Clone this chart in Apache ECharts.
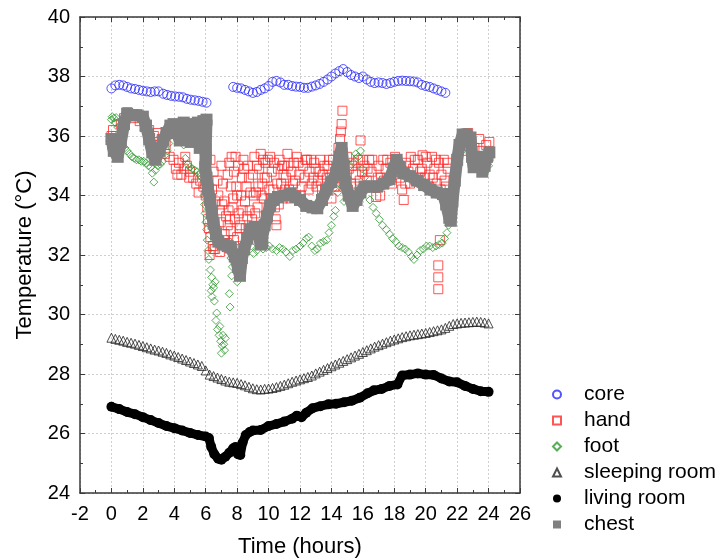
<!DOCTYPE html>
<html>
<head>
<meta charset="utf-8">
<script src="https://cdn.jsdelivr.net/npm/echarts@6/dist/echarts.min.js"></script>
<style>html,body{margin:0;padding:0;background:#fff}#c{width:718px;height:560px}</style>
</head>
<body>
<div id="c"></div>
<script>
// ---- data (time in hours, temperature in °C) ----
var seriesNames = ['core', 'hand', 'foot', 'sleeping room', 'living room', 'chest'];

var core = [
[0,37.6],[0.25,37.7],[0.5,37.72],[0.75,37.7],[1,37.65],[1.25,37.6],[1.5,37.58],[1.75,37.55],[2,37.52],[2.25,37.5],[2.5,37.48],[2.75,37.5],[3,37.5],
[3.3,37.42],[3.55,37.38],[3.8,37.35],[4.05,37.33],[4.3,37.32],[4.55,37.3],[4.8,37.25],[5.05,37.22],[5.3,37.2],[5.55,37.18],[5.8,37.15],[6.05,37.12],
[7.75,37.65],[8,37.62],[8.25,37.6],[8.5,37.55],[8.75,37.5],[9,37.45],[9.25,37.48],[9.5,37.55],[9.75,37.6],[10,37.68],[10.25,37.82],[10.5,37.85],[10.75,37.8],
[11,37.72],[11.25,37.72],[11.5,37.68],[11.75,37.66],[12,37.65],[12.25,37.62],[12.5,37.62],[12.75,37.66],[13,37.7],[13.25,37.75],[13.5,37.82],[13.75,37.9],
[14,38.0],[14.25,38.1],[14.5,38.18],[14.75,38.25],[15,38.15],[15.25,38.05],[15.5,38.0],[15.75,37.95],[16,38.0],[16.25,37.9],[16.5,37.82],[16.75,37.78],
[17,37.8],[17.25,37.78],[17.5,37.75],[17.75,37.78],[18,37.82],[18.25,37.85],[18.5,37.86],[18.75,37.85],[19,37.84],[19.25,37.83],[19.5,37.8],[19.75,37.72],
[20,37.68],[20.25,37.65],[20.5,37.6],[20.75,37.55],[21,37.5],[21.25,37.45]
];

var hand = [
[0,36.0],[0.05,35.7],[0.1,36.2],[0.2,35.8],[0.3,36.0],[0.6,36.4],[0.8,36.6],[1.0,36.8],[1.2,36.7],[1.5,36.6],[1.8,36.5],[2.1,36.3],[2.4,36.2],[2.7,36.0],
[2.9,35.7],[3.1,35.5],[3.4,35.4],[3.7,35.3],[3.95,35.2],[4.1,34.9],[4.3,35.1],[4.45,34.7],[4.6,34.9],[4.8,35.0],[5.0,34.8],[5.2,34.6],[5.4,34.4],[5.55,34.1],
[5.65,34.5],[5.85,34.3],[6.0,34.0],[6.1,33.6],[6.15,33.2],[6.2,32.9],[6.25,32.0],[6.3,32.6],[6.45,32.3],[6.5,32.2],[6.6,32.2],[6.8,32.5],[6.9,32.1],[7.0,32.35],
[7.2,32.7],[7.4,33.0],[7.6,32.8],[7.8,32.5],[8.0,32.6],[8.2,33.0],[6.3,35.2],[6.5,34.8],[6.4,34.2],[6.6,33.8],[6.8,34.0],[6.9,33.5],[7.0,35.0],[7.1,34.4],
[7.2,33.8],[7.3,33.3],[7.4,34.7],[7.5,35.1],[7.6,34.3],[7.7,33.6],[7.8,34.8],[7.9,35.3],[8.0,34.0],[8.1,33.4],[8.3,34.6],[8.4,35.2],[8.5,33.8],[8.6,34.3],
[8.7,35.0],[8.8,33.5],[9.0,34.7],[9.1,35.3],[9.2,34.1],[9.3,33.6],[9.4,34.9],[9.5,35.4],[9.6,34.4],[9.7,33.9],[9.8,35.1],[9.9,34.6],[10.0,33.6],[10.1,35.3],
[10.2,34.8],[10.3,34.2],[10.45,33.2],[10.5,33.0],[10.6,34.9],[10.7,35.2],[10.8,34.4],[10.9,33.9],[11.0,35.0],[11.1,34.6],[11.2,35.4],[11.3,34.2],[11.45,34.8],
[11.6,35.1],[11.7,34.5],[11.8,35.3],[11.95,34.7],[12.1,34.3],[12.2,35.0],[12.3,34.6],[12.45,35.2],[12.6,34.8],[12.75,34.4],[12.9,35.1],[13.0,34.9],[13.15,34.5],
[13.3,35.2],[13.45,34.7],[13.6,34.2],[13.75,35.0],[13.9,34.6],[14.0,33.9],[14.1,35.2],[14.25,34.8],[14.35,34.3],[14.45,35.6],[14.55,35.9],[14.6,36.15],[14.65,36.4],
[14.7,36.85],[14.8,35.0],[14.9,34.5],[15.0,35.3],[15.1,34.9],[15.25,34.4],[15.4,35.1],[15.55,34.7],[15.7,35.2],[15.85,35.85],[15.95,34.8],[16.1,35.0],[16.25,34.5],
[16.4,35.2],[16.55,34.8],[16.7,34.3],[16.85,33.95],[17.0,35.0],[17.15,34.6],[17.3,35.2],[17.45,34.9],[17.6,34.5],[17.75,35.1],[17.9,34.7],[18.05,35.3],[18.2,35.0],
[18.35,34.6],[18.5,34.2],[18.6,33.85],[18.75,35.1],[18.9,34.8],[19.05,35.3],[19.2,34.9],[19.35,34.5],[19.5,35.2],[19.65,34.8],[19.8,35.35],[19.95,34.6],[20.1,35.1],
[20.25,34.7],[20.4,35.3],[20.55,34.9],[20.7,34.4],[20.85,35.1],[20.9,32.5],[20.8,31.65],[20.8,31.25],[20.8,30.85],[21.0,34.7],[21.15,35.2],[21.3,34.3],[21.4,34.9],
[21.5,33.8],[22.3,35.5],[22.5,35.9],[22.7,36.1],[22.9,35.8],[23.1,35.6],[23.25,35.3],[23.4,35.9],[23.55,35.5],[23.7,35.0],[23.85,35.7],[24.0,35.3],[24.05,35.8],
[6.35,33.9],[6.55,33.0],[6.7,32.8],[6.75,34.5],[6.95,33.1],[7.05,33.7],[7.15,32.5],[7.35,32.4],[7.45,33.5],[7.55,33.2],[7.65,35.3],[7.75,33.9],[7.85,33.2],
[7.95,34.3],[8.05,35.0],[8.15,32.9],[8.25,34.0],[8.35,33.5],[8.45,34.9],[8.55,32.9],[8.65,33.3],[8.75,34.6],[8.85,34.1],[8.95,33.2],[9.05,34.0],
[9.15,33.4],[9.25,35.0],[9.35,34.3],[9.55,34.0],[9.65,35.2],[9.75,34.6],[9.95,35.2],[10.05,34.2],[10.15,33.9],[10.35,35.1],[10.4,33.6],[10.55,34.4],[10.65,33.7],
[10.85,35.0],[10.95,34.7],[11.05,34.2],[11.25,35.0],[11.4,33.9],[11.55,34.4],[11.75,34.0],[11.9,35.1],[12.05,34.0],[12.35,35.2],[12.55,34.2],[12.7,35.2],
[12.85,34.6],[13.05,34.3],[13.25,34.8],[13.4,34.2],[13.55,35.0],[13.7,34.6],[13.85,35.2],[14.2,34.3],
[15.05,34.2],[15.3,35.0],[15.5,34.3],[15.8,34.5],[16.0,35.2],[16.3,34.9],[16.6,35.2],[16.95,34.6],[17.1,34.0],[17.35,34.5],[17.55,35.2],[17.85,34.4],[18.1,34.8],
[18.45,35.0],[18.7,34.4],[19.0,34.4],[19.3,35.2],[19.55,34.6],[19.75,34.9],[20.0,35.3],[20.2,34.3],[20.45,34.6],[20.65,35.2],[20.95,34.2],[21.2,34.5],[21.35,35.1],
[2.95,36.1],[3.2,35.9],[3.45,35.7],[4.2,34.7],[4.7,35.3],[4.95,34.6]
];

var foot = [
[0,36.55],[0.05,36.65],[0.15,36.6],[0.25,36.45],[0.3,36.62],[0.4,36.3],[0.55,36.0],[0.7,35.8],[0.85,35.6],[1.0,35.5],[1.15,35.4],[1.3,35.3],[1.45,35.25],
[1.6,35.2],[1.75,35.2],[1.9,35.15],[2.05,35.15],[2.2,35.1],[2.35,35.0],[2.5,34.95],[2.6,34.75],[2.7,34.45],[2.8,34.85],[2.95,35.0],[3.1,35.05],[3.25,35.15],
[3.4,35.35],[3.55,35.5],[3.65,35.75],[3.75,36.0],[3.9,36.15],[4.05,36.2],[4.2,36.25],[4.35,36.1],[4.5,36.0],[4.6,35.7],[4.7,35.25],[4.85,35.05],[5.0,34.95],
[5.15,34.9],[5.3,34.85],[5.45,34.8],[5.6,34.7],[5.75,34.6],[5.85,34.3],[5.9,34.0],[5.93,33.7],[5.96,33.4],[6.02,33.1],[6.06,32.85],[6.1,32.5],[6.15,32.15],
[6.2,31.85],[6.3,31.5],[6.38,31.25],[6.45,31.0],[6.35,30.8],[6.4,30.6],[6.5,30.9],[6.6,31.1],[6.55,30.45],[6.7,30.05],[6.65,29.8],[6.75,29.5],[6.85,29.3],
[6.95,29.1],[7.05,28.95],[7.0,28.7],[6.9,29.6],[7.1,29.3],[7.15,29.0],[7.2,28.8],[7.25,29.2],[7.55,30.25],[7.5,30.7],[7.65,31.3],[7.7,31.6],[7.6,31.9],
[7.8,32.1],[8.0,31.1],[8.1,31.5],[8.3,31.8],[8.5,32.1],[8.7,32.4],[8.9,32.3],[9.05,32.05],[9.25,32.15],[9.45,32.3],[9.65,32.2],[9.85,32.25],[10.05,32.3],
[10.25,32.2],[10.5,32.15],[10.7,32.25],[10.9,32.2],[11.1,32.1],[11.35,31.95],[11.55,32.15],[11.75,32.2],[12.0,32.3],[12.2,32.4],[12.4,32.55],[12.55,32.6],
[12.75,32.3],[12.95,32.15],[13.1,32.2],[13.3,32.4],[13.5,32.45],[13.7,32.5],[13.85,32.75],[14.0,33.0],[14.15,33.3],[14.25,33.5],[14.4,34.1],[14.5,34.4],
[14.6,34.6],[14.7,34.3],[14.8,33.8],[15.0,34.6],[15.2,35.0],[15.4,35.1],[15.55,35.4],[15.7,35.3],[15.85,35.5],[15.95,34.9],[16.1,34.6],[16.25,34.2],
[16.45,33.85],[16.65,33.6],[16.85,33.4],[17.05,33.2],[17.25,33.0],[17.5,32.85],[17.7,32.7],[17.9,32.55],[18.1,32.45],[18.3,32.3],[18.5,32.25],[18.7,32.2],
[18.9,32.1],[19.1,31.95],[19.25,31.85],[19.45,32.0],[19.65,32.15],[19.85,32.2],[20.05,32.3],[20.25,32.3],[20.45,32.25],[20.65,32.3],[20.85,32.35],[21.05,32.4],
[21.2,32.55],[21.35,32.75],[21.45,33.0],[21.55,33.2],[21.6,33.5],[21.7,33.9],[21.8,34.3],[21.95,34.7],[22.1,35.1],[22.3,35.5],[22.6,35.8],[22.9,35.3],
[23.2,35.1],[23.5,34.9],[23.8,34.8],[24.0,35.0]
];

var sleepingRoom = [
[0,29.22],[0.25,29.18],[0.5,29.15],[0.75,29.12],[1,29.08],[1.25,29.05],[1.5,29.02],[1.75,28.98],[2,28.94],[2.25,28.9],[2.5,28.86],[2.75,28.82],[3,28.79],
[3.25,28.75],[3.5,28.71],[3.75,28.66],[4,28.62],[4.25,28.57],[4.5,28.52],[4.75,28.47],[5,28.42],[5.25,28.37],[5.5,28.32],[5.75,28.27],[6,28.12],[6.25,27.98],
[6.5,27.93],[6.75,27.88],[7,27.83],[7.25,27.78],[7.5,27.74],[7.75,27.72],[8,27.7],[8.25,27.66],[8.5,27.62],[8.75,27.57],[9,27.52],[9.25,27.49],[9.5,27.48],
[9.75,27.5],[10,27.51],[10.25,27.53],[10.5,27.56],[10.75,27.6],[11,27.64],[11.25,27.69],[11.5,27.74],[11.75,27.78],[12,27.82],[12.25,27.86],[12.5,27.9],
[12.75,27.95],[13,28.02],[13.25,28.08],[13.5,28.14],[13.75,28.2],[14,28.26],[14.25,28.32],[14.5,28.38],[14.75,28.44],[15,28.5],[15.25,28.56],[15.5,28.62],
[15.75,28.68],[16,28.74],[16.25,28.8],[16.5,28.86],[16.75,28.92],[17,28.97],[17.25,29.02],[17.5,29.07],[17.75,29.12],[18,29.16],[18.25,29.2],[18.5,29.24],
[18.75,29.27],[19,29.3],[19.25,29.32],[19.5,29.34],[19.75,29.36],[20,29.38],[20.25,29.41],[20.5,29.44],[20.75,29.47],[21,29.5],[21.25,29.55],[21.5,29.62],
[21.75,29.68],[22,29.7],[22.25,29.72],[22.5,29.73],[22.75,29.74],[23,29.75],[23.25,29.76],[23.5,29.75],[23.75,29.73],[24,29.7]
];

var livingRoom = [
[0,26.9],[0.5,26.82],[1,26.72],[1.5,26.65],[2,26.55],[2.5,26.45],[3,26.35],[3.5,26.25],[4,26.18],[4.5,26.1],[5,26.02],[5.5,25.95],[6,25.9],[6.2,25.85],
[6.35,25.55],[6.55,25.3],[6.8,25.15],[7.0,25.12],[7.25,25.22],[7.5,25.35],[7.75,25.5],[7.9,25.55],[8.05,25.3],[8.2,25.28],[8.35,25.7],[8.55,25.95],[8.8,26.05],
[9.0,26.1],[9.5,26.12],[10,26.25],[10.5,26.32],[11,26.4],[11.5,26.5],[11.8,26.6],[12.1,26.55],[12.4,26.7],[12.8,26.85],[13.3,26.92],[13.8,26.98],[14.3,27.0],
[14.8,27.05],[15.3,27.1],[15.8,27.2],[16.3,27.35],[16.7,27.45],[17.2,27.5],[17.7,27.6],[18.2,27.65],[18.5,27.95],[19,27.98],[19.5,28.02],[20,27.98],[20.5,27.97],
[21,27.85],[21.5,27.75],[22,27.72],[22.5,27.6],[23,27.5],[23.5,27.42],[24,27.4]
];

var chest = [
[0,35.9],[0.15,35.5],[0.4,35.3],[0.6,35.8],[0.8,36.4],[1.0,36.75],[1.3,36.7],[1.6,36.7],[2.0,36.65],[2.2,36.35],[2.4,35.9],[2.6,35.45],[2.8,35.2],[3.05,35.5],
[3.3,35.85],[3.5,36.1],[3.75,36.35],[3.95,36.4],[4.15,36.1],[4.35,35.85],[4.5,36.2],[4.6,36.45],[4.85,36.3],[5.05,35.8],[5.2,36.4],[5.5,36.45],[5.62,35.6],
[5.75,36.2],[5.85,36.5],[6.05,36.55],[6.0,35.55],[6.0,35.25],[5.97,34.95],[6.05,34.6],[6.15,34.2],[6.27,33.85],[6.4,33.4],[6.5,33.05],[6.65,32.7],[6.8,32.45],
[7.1,32.35],[7.4,32.3],[7.6,32.25],[7.85,31.95],[8.05,31.6],[8.18,31.3],[8.3,31.9],[8.45,32.2],[8.65,32.55],[8.85,32.85],[9.1,32.95],[9.3,32.8],[9.5,32.35],
[9.6,32.4],[9.75,33.0],[9.9,33.3],[10.1,33.65],[10.3,33.85],[10.6,33.95],[11.0,34.0],[11.4,34.07],[11.7,33.95],[12.0,33.85],[12.4,33.65],[12.8,33.6],[13.1,33.57],
[13.4,33.85],[13.7,34.2],[14.0,34.45],[14.3,34.75],[14.5,35.3],[14.65,35.6],[14.76,35.0],[14.9,34.4],[15.1,34.0],[15.35,33.65],[15.6,33.85],[15.85,34.1],
[16.1,34.3],[16.5,34.3],[16.9,34.3],[17.3,34.4],[17.7,34.55],[17.95,34.9],[18.15,35.2],[18.35,34.95],[18.6,34.75],[19.0,34.65],[19.45,34.5],[19.9,34.35],
[20.3,34.2],[20.7,34.1],[21.1,34.05],[21.3,33.7],[21.5,33.25],[21.6,33.15],[21.7,33.8],[21.85,34.5],[22.0,35.2],[22.15,35.7],[22.35,36.05],[22.6,36.05],
[22.85,35.95],[22.95,35.3],[23.05,34.95],[23.25,35.15],[23.45,35.3],[23.6,34.8],[23.75,35.0],[23.9,35.3],[24.05,35.45]
];

// ---- chart ----
var FONT = '"Liberation Sans", Arial, sans-serif';
var frameColor = '#3a3a3a';
function xAxisDef(pos, labels) {
  return {
    type: 'value', position: pos, min: -2, max: 26, interval: 2,
    axisLine: { show: true, onZero: false, lineStyle: { color: frameColor, width: 1.5 } },
    axisTick: { show: true, inside: true, length: 5, lineStyle: { color: frameColor } },
    minorTick: { show: true, splitNumber: 2, length: 3, lineStyle: { color: frameColor } },
    splitLine: { show: labels, lineStyle: { color: '#cfcfcf', type: [2, 2] } },
    axisLabel: { show: labels, fontSize: 20, color: '#000', fontFamily: FONT, margin: 11 },
    name: labels ? 'Time (hours)' : '', nameLocation: 'middle', nameGap: 43,
    nameTextStyle: { fontSize: 22, color: '#000', fontFamily: FONT }
  };
}
function yAxisDef(pos, labels) {
  return {
    type: 'value', position: pos, min: 24, max: 40, interval: 2,
    axisLine: { show: true, onZero: false, lineStyle: { color: frameColor, width: 1.5 } },
    axisTick: { show: true, inside: true, length: 5, lineStyle: { color: frameColor } },
    minorTick: { show: true, splitNumber: 2, length: 3, lineStyle: { color: frameColor } },
    splitLine: { show: labels, lineStyle: { color: '#cfcfcf', type: [2, 2] } },
    axisLabel: { show: labels, fontSize: 20, color: '#000', fontFamily: FONT, margin: 10 },
    name: labels ? 'Temperature (°C)' : '', nameLocation: 'middle', nameGap: 44,
    nameTextStyle: { fontSize: 22, color: '#000', fontFamily: FONT }
  };
}

var chart = echarts.init(document.getElementById('c'), null, { renderer: 'canvas' });
chart.setOption({
  animation: false,
  backgroundColor: '#fff',
  grid: { left: 80, right: 198, top: 17, bottom: 67, containLabel: false, outerBoundsMode: 'none' },
  xAxis: [xAxisDef('bottom', true), xAxisDef('top', false)],
  yAxis: [yAxisDef('left', true), yAxisDef('right', false)],
  legend: {
    orient: 'vertical', left: 552, top: 384, padding: 0,
    itemWidth: 8, itemHeight: 8, itemGap: 5,
    textStyle: { fontSize: 21, color: '#000', fontFamily: FONT, lineHeight: 21, padding: [0, 0, 0, 18] },
    data: [
      { name: 'core', icon: 'circle' },
      { name: 'hand', icon: 'rect' },
      { name: 'foot', icon: 'diamond' },
      { name: 'sleeping room', icon: 'triangle' },
      { name: 'living room', icon: 'circle' },
      { name: 'chest', icon: 'rect' }
    ]
  },
  series: [
    { name: seriesNames[0], type: 'scatter', data: core, symbol: 'circle', symbolSize: 9,
      itemStyle: { color: 'rgba(255,255,255,0)', borderColor: '#2828ff', borderWidth: 1 } },
    { name: seriesNames[1], type: 'scatter', data: hand, symbol: 'rect', symbolSize: 9,
      itemStyle: { color: 'rgba(255,255,255,0)', borderColor: '#ff2a2a', borderWidth: 1 } },
    { name: seriesNames[2], type: 'scatter', data: foot, symbol: 'diamond', symbolSize: 8,
      itemStyle: { color: 'rgba(255,255,255,0)', borderColor: '#2f9a2f', borderWidth: 1 } },
    { name: seriesNames[3], type: 'scatter', data: sleepingRoom, symbol: 'triangle', symbolSize: 9,
      itemStyle: { color: 'rgba(255,255,255,0)', borderColor: '#222', borderWidth: 1 } },
    { name: seriesNames[4], type: 'line', data: livingRoom, symbol: 'circle', symbolSize: 10, showSymbol: true,
      lineStyle: { color: '#000', width: 9 }, itemStyle: { color: '#000', borderWidth: 0 } },
    { name: seriesNames[5], type: 'line', data: chest, symbol: 'rect', symbolSize: 12, showSymbol: true,
      lineStyle: { color: '#808080', width: 12 }, itemStyle: { color: '#808080', borderWidth: 0 } }
  ]
});
</script>
</body>
</html>
